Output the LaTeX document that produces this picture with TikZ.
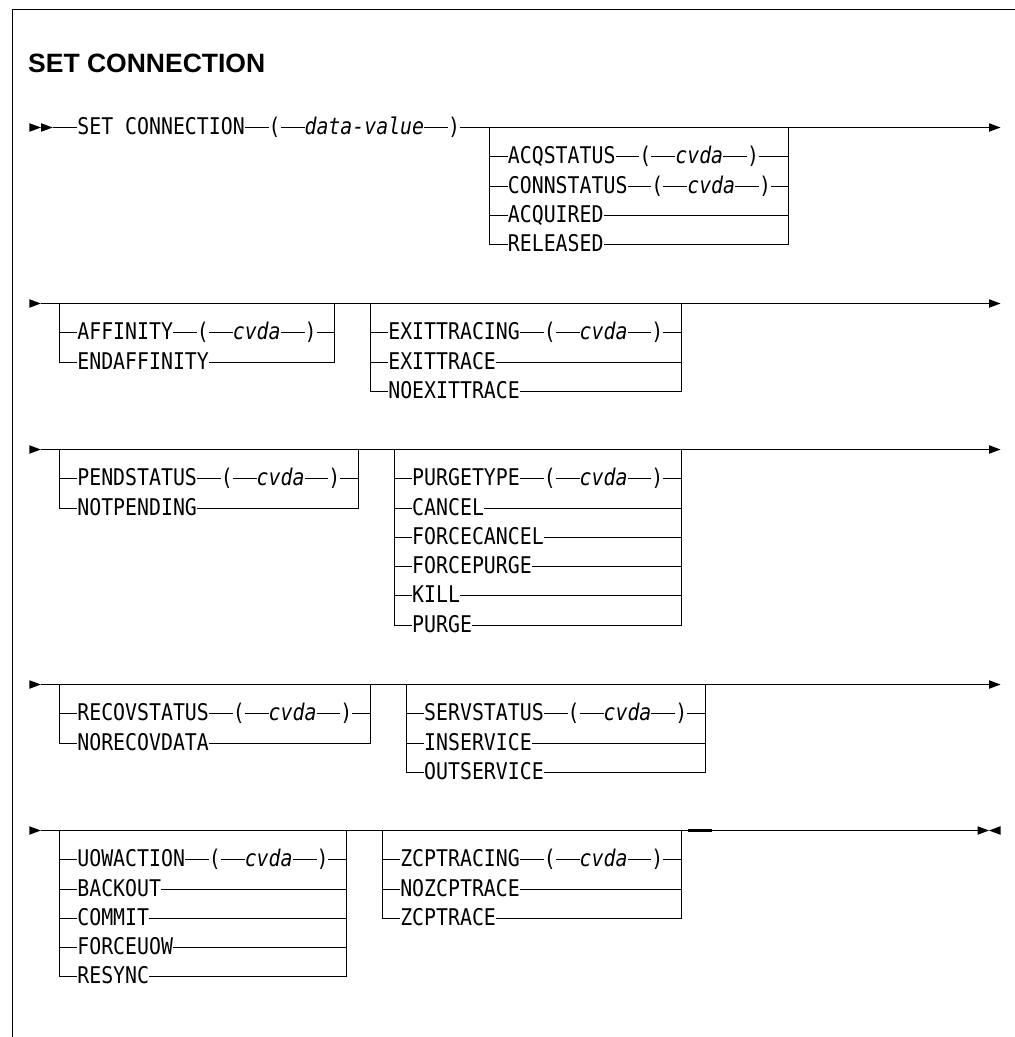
\documentclass[tikz,border=0pt]{standalone}
\usepackage{fontspec}
\newfontfamily\railfont[FakeStretch=0.8637,ItalicFont={DejaVu Sans Mono Oblique}]{DejaVu Sans Mono}
\newfontfamily\titlefam{Liberation Sans}
\newcommand\rfont{\railfont\fontsize{23}{25}\selectfont}
\newcommand\rit{\railfont\fontsize{23}{25}\selectfont\itshape}
\def\pitch{29.29}
\def\xo{29.5}
\def\cw{11.96}
% #1 id, #2 left cell, #3 right cell, #4 main y, #5 number of options, #6 options
\newcommand\railbox[6]{%
  \pgfmathsetmacro\xl{floor(\xo+(#2+0.5)*\cw)+0.5}
  \pgfmathsetmacro\xr{floor(\xo+(#3+0.5)*\cw)+0.5}
  \coordinate (#1TL) at (\xl,#4);
  \coordinate (#1TR) at (\xr,#4);
  \foreach \lab/\cv [count=\i] in {#6} {
    \pgfmathsetmacro\yy{floor(#4+\i*\pitch)+0.5}
    \coordinate (#1L\i) at (\xl,\yy);
    \coordinate (#1R\i) at (\xr,\yy);
    \node[railtxt] (#1N\i) at ({\xo+(#2+2)*\cw},\yy) {\lab};
    \draw[rail] (#1L\i) -- (#1N\i.west);
    \ifnum\cv=1\relax
      \node[railtxt] (#1A\i) at ([xshift=2*\cw]#1N\i.east) {(};
      \node[railit] (#1B\i) at ([xshift=2*\cw]#1A\i.east) {cvda};
      \node[railtxt] (#1C\i) at ([xshift=2*\cw]#1B\i.east) {)};
      \draw[rail] (#1N\i.east) -- (#1A\i.west) (#1A\i.east) -- (#1B\i.west)
                  (#1B\i.east) -- (#1C\i.west) (#1C\i.east) -- (#1R\i);
    \else
      \draw[rail] (#1N\i.east) -- (#1R\i);
    \fi
  }
  \draw[rail] (#1TL) -- (#1L#5);
  \draw[rail] (#1TR) -- (#1R#5);
}
\begin{document}
\begin{tikzpicture}[x=1pt,y=-1pt,
  rail/.style={line width=1.3pt},
  railtxt/.style={font=\rfont, inner sep=0pt, outer sep=0pt, anchor=west, text height=14.6pt, text depth=0pt},
  railit/.style={railtxt, font=\rit},
  tipfill/.style={fill=black}]
\fill[white] (0,0) rectangle (1015,1037);
\useasboundingbox (0,0) rectangle (1015,1037);
% frame
\coordinate (fb) at (12.5,1037);
\coordinate (fc) at (12.5,9.5);
\coordinate (fr) at (1015,9.5);
\draw[line width=1.6pt] (fb) -- (fc) -- (fr);
% title
\node[font=\titlefam\bfseries\fontsize{26.5}{30}\selectfont, inner sep=0pt, anchor=base west] (title) at (28,72.7) {SET CONNECTION};

\def\ya{127.5}
\def\yb{303.5}
\def\yc{449.5}
\def\yd{684.5}
\def\ye{830.5}

% ---------- row 1
\fill[tipfill] (29.3,\ya-4.3) -- (41,\ya) -- (29.3,\ya+4.3) -- cycle;
\fill[tipfill] (41,\ya-4.3) -- (52.7,\ya) -- (41,\ya+4.3) -- cycle;
\coordinate (s1) at (52.7,\ya);
\node[railtxt] (setc) at ({\xo+4*\cw},\ya) {SET CONNECTION};
\node[railtxt] (p1) at ([xshift=2*\cw]setc.east) {(};
\node[railit] (dv) at ([xshift=2*\cw]p1.east) {data-value};
\node[railtxt] (p2) at ([xshift=2*\cw]dv.east) {)};
\coordinate (e1) at (989,\ya);
\draw[rail] (s1) -- (setc.west) (setc.east) -- (p1.west) (p1.east) -- (dv.west)
            (dv.east) -- (p2.west) (p2.east) -- (e1);
\fill[tipfill] (989,\ya-4.3) -- (1000.5,\ya) -- (989,\ya+4.3) -- cycle;
\railbox{a}{38}{63}{\ya}{4}{ACQSTATUS/1,CONNSTATUS/1,ACQUIRED/0,RELEASED/0}

% ---------- row 2
\fill[tipfill] (29.3,\yb-4.3) -- (40.8,\yb) -- (29.3,\yb+4.3) -- cycle;
\coordinate (s2) at (40.8,\yb);
\coordinate (e2) at (989,\yb);
\draw[rail] (s2) -- (e2);
\fill[tipfill] (989,\yb-4.3) -- (1000.5,\yb) -- (989,\yb+4.3) -- cycle;
\railbox{b}{2}{25}{\yb}{2}{AFFINITY/1,ENDAFFINITY/0}
\railbox{c}{28}{54}{\yb}{3}{EXITTRACING/1,EXITTRACE/0,NOEXITTRACE/0}

% ---------- row 3
\fill[tipfill] (29.3,\yc-4.3) -- (40.8,\yc) -- (29.3,\yc+4.3) -- cycle;
\coordinate (s3) at (40.8,\yc);
\coordinate (e3) at (989,\yc);
\draw[rail] (s3) -- (e3);
\fill[tipfill] (989,\yc-4.3) -- (1000.5,\yc) -- (989,\yc+4.3) -- cycle;
\railbox{d}{2}{27}{\yc}{2}{PENDSTATUS/1,NOTPENDING/0}
\railbox{e}{30}{54}{\yc}{6}{PURGETYPE/1,CANCEL/0,FORCECANCEL/0,FORCEPURGE/0,KILL/0,PURGE/0}

% ---------- row 4
\fill[tipfill] (29.3,\yd-4.3) -- (40.8,\yd) -- (29.3,\yd+4.3) -- cycle;
\coordinate (s4) at (40.8,\yd);
\coordinate (e4) at (989,\yd);
\draw[rail] (s4) -- (e4);
\fill[tipfill] (989,\yd-4.3) -- (1000.5,\yd) -- (989,\yd+4.3) -- cycle;
\railbox{f}{2}{28}{\yd}{2}{RECOVSTATUS/1,NORECOVDATA/0}
\railbox{g}{31}{56}{\yd}{3}{SERVSTATUS/1,INSERVICE/0,OUTSERVICE/0}

% ---------- row 5
\fill[tipfill] (29.3,\ye-4.3) -- (40.8,\ye) -- (29.3,\ye+4.3) -- cycle;
\coordinate (s5) at (40.8,\ye);
\coordinate (e5) at (977.5,\ye);
\draw[rail] (s5) -- (e5);
\coordinate (k1) at (688,\ye);
\coordinate (k2) at (712,\ye);
\draw[line width=2.4pt] (k1) -- (k2);
\fill[tipfill] (977.5,\ye-4.3) -- (989,\ye) -- (977.5,\ye+4.3) -- cycle;
\fill[tipfill] (1000.5,\ye-4.3) -- (989,\ye) -- (1000.5,\ye+4.3) -- cycle;
\railbox{h}{2}{26}{\ye}{5}{UOWACTION/1,BACKOUT/0,COMMIT/0,FORCEUOW/0,RESYNC/0}
\railbox{i}{29}{54}{\ye}{3}{ZCPTRACING/1,NOZCPTRACE/0,ZCPTRACE/0}
\end{tikzpicture}
\end{document}
